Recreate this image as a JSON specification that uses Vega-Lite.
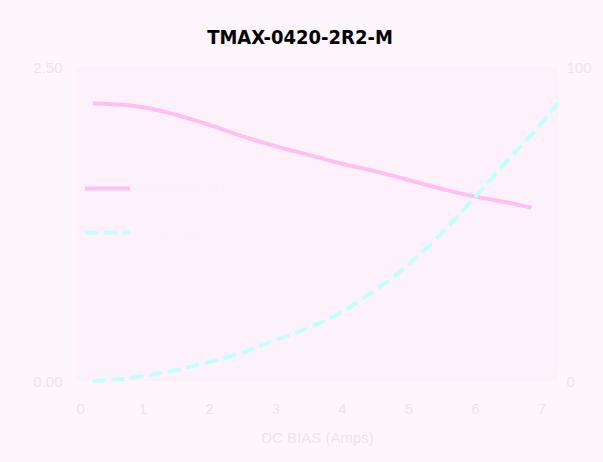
{
  "$schema": "https://vega.github.io/schema/vega-lite/v6.json",
  "width": 482,
  "height": 314,
  "autosize": {"type": "none"},
  "padding": {"left": 76, "top": 67, "right": 45, "bottom": 81},
  "background": "#fef6fd",
  "title": {
    "text": "TMAX-0420-2R2-M",
    "font": "DejaVu Sans Condensed, Liberation Sans",
    "fontSize": 20,
    "fontWeight": "bold",
    "color": "#000000",
    "anchor": "middle",
    "dx": -17,
    "offset": 12
  },
  "config": {
    "view": {"stroke": null, "fill": "#fdf2fb"},
    "font": "Liberation Sans",
    "axis": {
      "labelColor": "#ebe5eb",
      "titleColor": "#ebe5eb",
      "labelFontSize": 15,
      "titleFontSize": 15,
      "titleFontWeight": "normal",
      "domain": false,
      "ticks": false,
      "grid": false
    }
  },
  "datasets": {
    "curves": [
      {"amps": 0.25, "value": 2.21, "series": "Inductance (µH)"},
      {"amps": 0.5, "value": 2.205, "series": "Inductance (µH)"},
      {"amps": 1.0, "value": 2.18, "series": "Inductance (µH)"},
      {"amps": 1.5, "value": 2.12, "series": "Inductance (µH)"},
      {"amps": 2.0, "value": 2.04, "series": "Inductance (µH)"},
      {"amps": 2.5, "value": 1.95, "series": "Inductance (µH)"},
      {"amps": 3.0, "value": 1.87, "series": "Inductance (µH)"},
      {"amps": 3.5, "value": 1.8, "series": "Inductance (µH)"},
      {"amps": 4.0, "value": 1.73, "series": "Inductance (µH)"},
      {"amps": 4.5, "value": 1.67, "series": "Inductance (µH)"},
      {"amps": 5.0, "value": 1.6, "series": "Inductance (µH)"},
      {"amps": 5.5, "value": 1.53, "series": "Inductance (µH)"},
      {"amps": 6.0, "value": 1.47, "series": "Inductance (µH)"},
      {"amps": 6.5, "value": 1.42, "series": "Inductance (µH)"},
      {"amps": 6.85, "value": 1.38, "series": "Inductance (µH)"},
      {"amps": 0.25, "value": 0, "series": "Temperature Rise (°C)"},
      {"amps": 0.5, "value": 0.3, "series": "Temperature Rise (°C)"},
      {"amps": 1.0, "value": 1.5, "series": "Temperature Rise (°C)"},
      {"amps": 1.5, "value": 3.5, "series": "Temperature Rise (°C)"},
      {"amps": 2.0, "value": 6, "series": "Temperature Rise (°C)"},
      {"amps": 2.5, "value": 9, "series": "Temperature Rise (°C)"},
      {"amps": 3.0, "value": 13, "series": "Temperature Rise (°C)"},
      {"amps": 3.5, "value": 17, "series": "Temperature Rise (°C)"},
      {"amps": 4.0, "value": 22, "series": "Temperature Rise (°C)"},
      {"amps": 4.5, "value": 29, "series": "Temperature Rise (°C)"},
      {"amps": 5.0, "value": 37, "series": "Temperature Rise (°C)"},
      {"amps": 5.5, "value": 47, "series": "Temperature Rise (°C)"},
      {"amps": 6.0, "value": 58.5, "series": "Temperature Rise (°C)"},
      {"amps": 6.5, "value": 70.5, "series": "Temperature Rise (°C)"},
      {"amps": 7.0, "value": 82, "series": "Temperature Rise (°C)"},
      {"amps": 7.25, "value": 88.5, "series": "Temperature Rise (°C)"}
    ]
  },
  "data": {"name": "curves"},
  "encoding": {
    "x": {
      "field": "amps",
      "type": "quantitative",
      "scale": {"domain": [0, 7.25], "nice": false, "zero": false},
      "axis": {"values": [0, 1, 2, 3, 4, 5, 6, 7], "labelPadding": 20, "title": "DC BIAS (Amps)", "titlePadding": 14}
    },
    "color": {
      "field": "series",
      "type": "nominal",
      "scale": {"domain": ["Inductance (µH)", "Temperature Rise (°C)"], "range": ["#ffbff0", "#c2fffa"]},
      "legend": {
        "title": null,
        "orient": "none",
        "legendX": 7,
        "legendY": 97,
        "symbolType": "stroke",
        "symbolSize": 2025,
        "symbolStrokeWidth": 4,
        "rowPadding": 11,
        "labelColor": "#fbf1fb",
        "labelFontSize": 13
      }
    },
    "strokeDash": {
      "field": "series",
      "type": "nominal",
      "scale": {"domain": ["Inductance (µH)", "Temperature Rise (°C)"], "range": [[1, 0], [13, 6]]},
      "legend": {
        "title": null,
        "orient": "none",
        "legendX": 7,
        "legendY": 97,
        "symbolType": "stroke",
        "symbolSize": 2025,
        "symbolStrokeWidth": 4,
        "rowPadding": 11,
        "labelColor": "#fbf1fb",
        "labelFontSize": 13
      }
    }
  },
  "layer": [
    {
      "transform": [{"filter": "datum.series === 'Inductance (µH)'"}],
      "mark": {"type": "line", "strokeWidth": 4, "interpolate": "monotone"},
      "encoding": {
        "y": {
          "field": "value",
          "type": "quantitative",
          "scale": {"domain": [0, 2.5], "nice": false},
          "axis": {"orient": "left", "values": [0, 2.5], "format": ".2f", "title": null, "labelPadding": 14}
        }
      }
    },
    {
      "transform": [{"filter": "datum.series === 'Temperature Rise (°C)'"}],
      "mark": {"type": "line", "strokeWidth": 4, "interpolate": "monotone"},
      "encoding": {
        "y": {
          "field": "value",
          "type": "quantitative",
          "scale": {"domain": [0, 100], "nice": false},
          "axis": {"orient": "right", "values": [0, 100], "title": null, "labelPadding": 8}
        }
      }
    }
  ],
  "resolve": {"scale": {"y": "independent"}, "axis": {"y": "independent"}}
}
